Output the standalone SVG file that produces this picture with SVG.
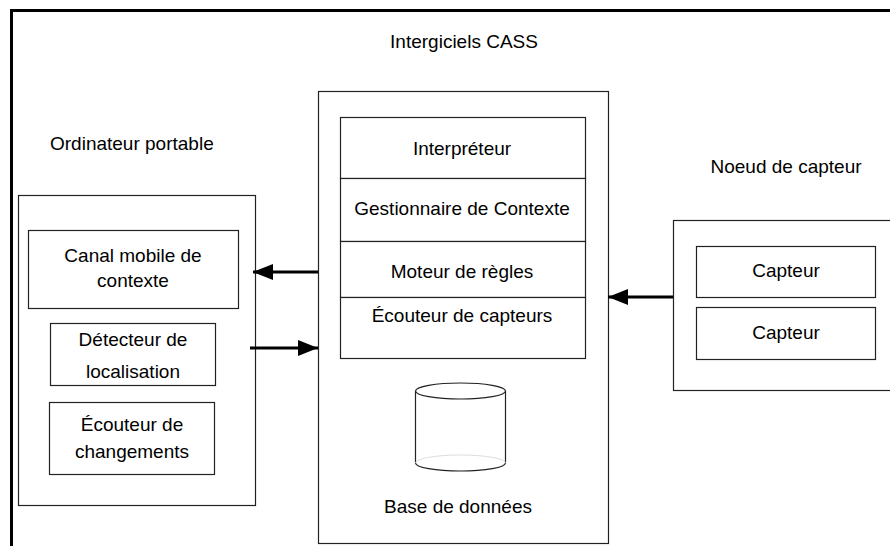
<svg xmlns="http://www.w3.org/2000/svg" width="890" height="546" viewBox="0 0 890 546">
<defs>
<style>
.box{fill:#fff;stroke:#222;stroke-width:1.2}
.t{font-family:"Liberation Sans",Arial,sans-serif;font-size:19px;fill:#000;text-anchor:middle}
.tl{font-family:"Liberation Sans",Arial,sans-serif;font-size:19px;fill:#000}
.conn{stroke:#000;stroke-width:3;fill:none}
.frame{stroke:#000;stroke-width:3;fill:none}
</style>
<marker id="ah" viewBox="0 0 20 16" refX="20" refY="8" markerWidth="20" markerHeight="16" markerUnits="userSpaceOnUse" orient="auto">
<path d="M0,0 L20,8 L0,16 Z" fill="#000"/>
</marker>
</defs>
<rect width="890" height="546" fill="#fff"/>
<path class="frame" d="M11.5,546 L11.5,10.5 L890,10.5"/>
<text class="t" x="464" y="48">Intergiciels CASS</text>

<g id="laptop">
<text class="tl" x="50" y="150">Ordinateur portable</text>
<rect class="box" x="18.5" y="195.5" width="237" height="310"/>
<g id="canal">
<rect class="box" x="28.5" y="230.5" width="210" height="78"/>
<text class="t" x="133" y="262">Canal mobile de</text>
<text class="t" x="133" y="287">contexte</text>
</g>
<g id="detecteur">
<rect class="box" x="50.5" y="323.5" width="165" height="62"/>
<text class="t" x="133" y="346">Détecteur de</text>
<text class="t" x="133" y="378">localisation</text>
</g>
<g id="ecouteur-changements">
<rect class="box" x="49.5" y="402.5" width="165" height="72"/>
<text class="t" x="132" y="431">Écouteur de</text>
<text class="t" x="132" y="458">changements</text>
</g>
</g>

<g id="middleware">
<rect class="box" x="318.5" y="91.5" width="290" height="452"/>
<g id="interpreteur">
<rect class="box" x="340.5" y="117.5" width="245" height="61"/>
<text class="t" x="462" y="155">Interpréteur</text>
</g>
<g id="gestionnaire">
<rect class="box" x="340.5" y="178.5" width="245" height="63"/>
<text class="t" x="462" y="215">Gestionnaire de Contexte</text>
</g>
<g id="moteur">
<rect class="box" x="340.5" y="241.5" width="245" height="56"/>
<text class="t" x="462" y="278">Moteur de règles</text>
</g>
<g id="ecouteur-capteurs">
<rect class="box" x="340.5" y="297.5" width="245" height="61"/>
<text class="t" x="462" y="322">Écouteur de capteurs</text>
</g>
<g id="database">
<path d="M415.5,391 L415.5,463 A45,8 0 0 0 505.5,463 L505.5,391" fill="#fff" stroke="#222" stroke-width="1.2"/>
<path d="M415.5,463 A45,8 0 0 1 505.5,463" fill="none" stroke="#ddd" stroke-width="1"/>
<ellipse cx="460.5" cy="391" rx="45" ry="8" fill="#fff" stroke="#222" stroke-width="1.2"/>
<text class="t" x="458" y="513">Base de données</text>
</g>
</g>

<g id="sensor-node">
<text class="t" x="786" y="173">Noeud de capteur</text>
<rect class="box" x="673.5" y="220.5" width="230" height="170"/>
<g id="capteur1">
<rect class="box" x="696.5" y="246.5" width="179" height="51"/>
<text class="t" x="786" y="277">Capteur</text>
</g>
<g id="capteur2">
<rect class="box" x="696.5" y="307.5" width="179" height="52"/>
<text class="t" x="786" y="339">Capteur</text>
</g>
</g>

<g id="connectors">
<line class="conn" x1="318" y1="272" x2="253" y2="272" marker-end="url(#ah)"/>
<line class="conn" x1="250" y1="348" x2="318" y2="348" marker-end="url(#ah)"/>
<line class="conn" x1="673" y1="297" x2="608" y2="297" marker-end="url(#ah)"/>
</g>
</svg>
